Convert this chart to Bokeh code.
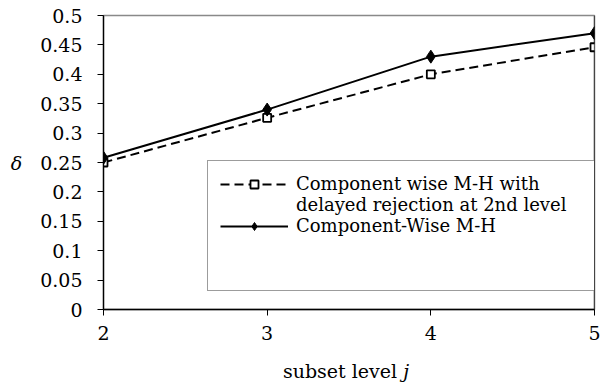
from bokeh.plotting import figure
from bokeh.layouts import column
from bokeh.models import FixedTicker, Legend, LegendItem, Span, Range1d, Div
from bokeh.embed import file_html
from bokeh.resources import INLINE

# ---- data ----
levels = [2, 3, 4, 5]
delayed_rejection = [0.250, 0.326, 0.400, 0.446]
component_wise = [0.258, 0.340, 0.430, 0.470]
series1_lines = ["Component wise M-H with", "delayed rejection at 2nd level"]
series2_name = "Component-Wise M-H"
x_ticks = [2, 3, 4, 5]
y_ticks = [0, 0.05, 0.1, 0.15, 0.2, 0.25, 0.3, 0.35, 0.4, 0.45, 0.5]
y_tick_labels = ["0", "0.05", "0.1", "0.15", "0.2", "0.25", "0.3", "0.35",
                 "0.4", "0.45", "0.5"]
x_title = "subset level"
x_title_var = "j"
y_title = "δ"

FONT = "DejaVu Serif"
FS = "19px"
LFS = "18px"

p = figure(width=600, height=350, output_backend="svg", toolbar_location=None,
           x_range=Range1d(2, 5), y_range=Range1d(0, 0.5),
           min_border_left=103, min_border_right=6, min_border_top=15,
           min_border_bottom=41, background_fill_color="white",
           border_fill_color="white")
p.grid.visible = False
p.outline_line_color = "#898989"
p.outline_line_width = 1.5

# axes
for ax in (p.xaxis[0], p.yaxis[0]):
    ax.axis_line_color = "black"
    ax.axis_line_width = 1.3
    ax.major_tick_line_color = "black"
    ax.major_tick_in = 0
    ax.major_tick_out = 6
    ax.minor_tick_line_color = None
    ax.major_label_text_font = FONT
    ax.major_label_text_font_size = FS
    ax.major_label_text_color = "black"

p.xaxis.ticker = FixedTicker(ticks=x_ticks)
p.xaxis.major_label_standoff = 10
p.yaxis.ticker = FixedTicker(ticks=y_ticks)
p.yaxis.major_label_overrides = dict(zip(y_ticks, y_tick_labels))
p.yaxis.major_label_standoff = 15
p.yaxis.axis_label = y_title
p.yaxis.axis_label_text_font = FONT
p.yaxis.axis_label_text_font_size = FS
p.yaxis.axis_label_text_font_style = "italic"
p.yaxis.axis_label_orientation = "horizontal"
p.yaxis.axis_label_standoff = 15
p.yaxis.axis_label_text_color = "black"

# right border of plot area
p.add_layout(Span(location=5, dimension="height", line_color="black", line_width=1.2))

# series
r1_line = p.line(levels, delayed_rejection, line_color="black", line_width=2,
                 line_dash="9 5")
r1_mark = p.scatter(levels, delayed_rejection, marker="square", size=8,
                    fill_color="white", line_color="black", line_width=1.8)
r2_line = p.line(levels, component_wise, line_color="black", line_width=2)
r2_mark = p.scatter(levels, component_wise, marker="diamond", size=13,
                    fill_color="black", line_color="black")
blank = p.line([], [], line_alpha=0)

legend = Legend(items=[
    LegendItem(label=series1_lines[0], renderers=[r1_line, r1_mark]),
    LegendItem(label=series1_lines[1], renderers=[blank]),
    LegendItem(label=series2_name, renderers=[r2_line, r2_mark]),
    LegendItem(label="\u00a0", renderers=[blank]),
    LegendItem(label="\u00a0", renderers=[blank]),
], location=(104, 18))
legend.glyph_width = 68
legend.glyph_height = 20
legend.label_height = 20
legend.label_width = 290
legend.label_standoff = 8
legend.padding = 12
legend.spacing = 0
legend.margin = 0
legend.label_text_font = FONT
legend.label_text_font_size = LFS
legend.label_text_color = "black"
legend.border_line_color = "#3a3a3a"
legend.border_line_width = 1.2
legend.background_fill_alpha = 1
p.add_layout(legend)

# x axis title: "subset level j" with italic j
title_div = Div(
    text=(f'<div style="margin-top:10px;line-height:22px">'
          f'{x_title} <i>{x_title_var}</i></div>'),
    width=508, height=37, margin=(0, 0, 0, 92),
    styles={"text-align": "center", "font-family": FONT, "font-size": FS,
            "color": "black"})

layout = column(p, title_div, spacing=0)
open("out.html", "w").write(file_html(layout, INLINE))
